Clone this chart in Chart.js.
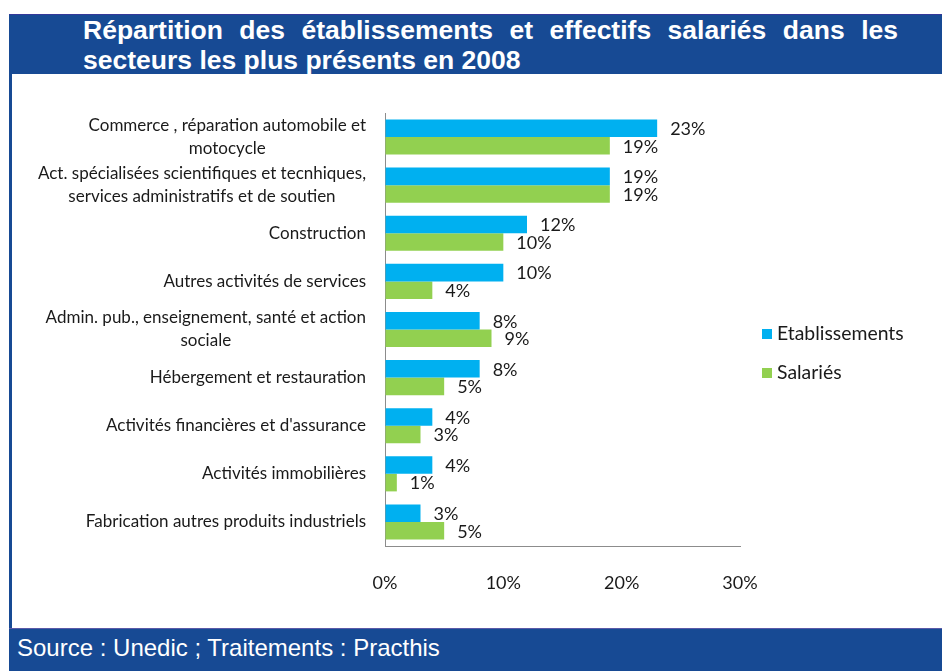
<!DOCTYPE html>
<html>
<head>
<meta charset="utf-8">
<script src="https://cdn.jsdelivr.net/npm/chart.js@4.4.1/dist/chart.umd.min.js"></script>
<style>
  html, body { margin: 0; padding: 0; background: #ffffff; }
  body { width: 942px; height: 671px; position: relative; overflow: hidden; }
  #titleBand { position: absolute; left: 9px; top: 14px; width: 933px; height: 60px; background: #174A94; border-top: 1px solid #34389a; box-sizing: border-box; }
  #title { position: absolute; left: 74px; top: 0px; width: 815px; color: #ffffff; font-family: "Liberation Sans", Arial, sans-serif; font-weight: bold; font-size: 26.5px; line-height: 30px; text-align: justify; }
  #leftBorder { position: absolute; left: 9px; top: 74px; width: 3px; height: 554px; background: #174A94; }
  #footBand { position: absolute; left: 9px; top: 628px; width: 933px; height: 43px; background: #174A94; border-top: 1px solid #5a5aa8; box-sizing: border-box; }
  #source { position: absolute; left: 8px; top: 5px; color: #ffffff; font-family: "Liberation Sans", Arial, sans-serif; font-size: 24px; line-height: 28px; }
  #wrap { position: absolute; left: 8px; top: 75px; width: 934px; height: 553px; }
</style>
</head>
<body>
<div id="titleBand"><div id="title">Répartition des établissements et effectifs salariés dans les secteurs les plus présents en 2008</div></div>
<div id="leftBorder"></div>
<div id="wrap"><canvas id="c"></canvas></div>
<div id="footBand"><div id="source">Source : Unedic ; Traitements : Practhis</div></div>
<script>
const categories = [
  ["Commerce , réparation automobile et", "motocycle"],
  ["Act. spécialisées scientifiques et tecnhiques,", "services administratifs et de soutien"],
  ["Construction"],
  ["Autres activités de services"],
  ["Admin. pub., enseignement, santé et action", "sociale"],
  ["Hébergement et restauration"],
  ["Activités financières et d'assurance"],
  ["Activités immobilières"],
  ["Fabrication autres produits industriels"]
];
const etablissements = [23, 19, 12, 10, 8, 8, 4, 4, 3];
const salaries = [19, 19, 10, 4, 9, 5, 3, 1, 5];
const seriesNames = ["Etablissements", "Salariés"];
const xTicks = [0, 10, 20, 30];

const FONT = "Lato, 'Open Sans', sans-serif";
const TEXT = "#1a1a1a";

const labelsPlugin = {
  id: 'customText',
  afterDatasetsDraw(chart) {
    const ctx = chart.ctx;
    const area = chart.chartArea;
    const yScale = chart.scales.y;
    ctx.save();
    // category labels (multi-line, lines centered within block, block right-aligned)
    ctx.font = "17px " + FONT;
    ctx.fillStyle = TEXT;
    ctx.textBaseline = 'middle';
    ctx.textAlign = 'center';
    const rightX = area.left - 19;
    const lh = 23;
    chart.data.labels.forEach((lab, i) => {
      const lines = Array.isArray(lab) ? lab : [lab];
      const w = Math.max(...lines.map(l => ctx.measureText(l).width));
      const cx = rightX - w / 2;
      const yc = yScale.getPixelForValue(i);
      const y0 = yc - (lines.length - 1) * lh / 2;
      lines.forEach((l, k) => ctx.fillText(l, cx, y0 + k * lh));
    });
    // data labels
    ctx.font = "18px " + FONT;
    ctx.textAlign = 'left';
    chart.data.datasets.forEach((ds, di) => {
      const meta = chart.getDatasetMeta(di);
      meta.data.forEach((bar, i) => {
        ctx.fillText(ds.data[i] + '%', bar.x + 13, bar.y + 1);
      });
    });
    // legend
    ctx.font = "19.4px " + FONT;
    const lx = area.right + 22;
    const ly = [area.top + 221, area.top + 260];
    chart.data.datasets.forEach((ds, di) => {
      ctx.fillStyle = ds.backgroundColor;
      ctx.fillRect(lx, ly[di] - 5, 10, 10);
      ctx.fillStyle = TEXT;
      ctx.fillText(ds.label, lx + 15, ly[di]);
    });
    ctx.restore();
  }
};

new Chart(document.getElementById('c'), {
  type: 'bar',
  data: {
    labels: categories,
    datasets: [
      { label: seriesNames[0], data: etablissements, backgroundColor: '#00B0F0', categoryPercentage: 0.73, barPercentage: 1.0 },
      { label: seriesNames[1], data: salaries, backgroundColor: '#92D050', categoryPercentage: 0.73, barPercentage: 1.0 }
    ]
  },
  options: {
    indexAxis: 'y',
    responsive: true,
    maintainAspectRatio: false,
    animation: false,
    layout: { padding: { top: 38, right: 202, left: 0, bottom: 0 } },
    plugins: { legend: { display: false }, tooltip: { enabled: false } },
    scales: {
      x: {
        min: 0, max: 30,
        afterBuildTicks(scale) { scale.ticks = xTicks.map(v => ({ value: v })); },
        afterFit(scale) { scale.height = 82; },
        grid: { display: true, color: 'rgba(0,0,0,0)', drawTicks: false },
        border: { display: true, color: '#8c8c8c', width: 1 },
        ticks: { padding: 26, color: TEXT, font: { family: FONT, size: 18 }, callback: v => v + '%' }
      },
      y: {
        afterFit(scale) { scale.width = 377; },
        grid: { display: true, color: 'rgba(0,0,0,0)', drawTicks: false },
        border: { display: true, color: '#8c8c8c', width: 1 },
        ticks: { display: false }
      }
    }
  },
  plugins: [labelsPlugin]
});
</script>
</body>
</html>
